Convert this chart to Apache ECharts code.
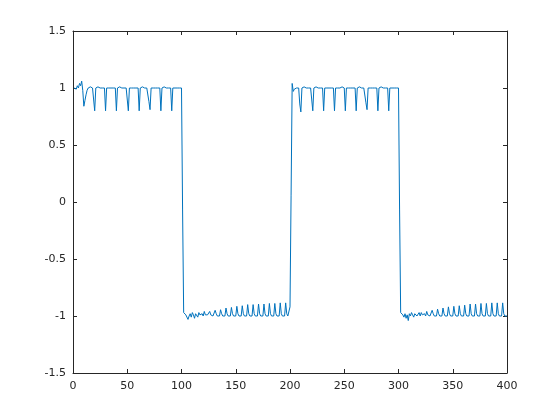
<!DOCTYPE html>
<html>
<head>
<meta charset="utf-8">
<script src="https://cdn.jsdelivr.net/npm/echarts@6/dist/echarts.min.js"></script>
<style>
  html, body { margin: 0; padding: 0; background: #fff; }
  #chart { width: 560px; height: 420px; }
</style>
</head>
<body>
<div id="chart"></div>
<script>
// samples 1..100 (high half)
const high1 = [
  1.00, 1.01, 0.99, 1.02, 1.00, 1.04, 1.02, 1.06, 0.98, 0.84,
  0.89, 0.94, 0.98, 1.00, 1.00, 1.01, 1.00, 1.00, 1.00, 0.80,
  1.00, 1.00, 1.01, 1.00, 1.00, 1.00, 1.00, 1.01, 1.00, 0.80,
  1.00, 1.00, 1.00, 1.01, 1.00, 1.00, 1.00, 1.00, 1.00, 0.80,
  1.00, 1.00, 1.01, 1.00, 1.00, 1.00, 1.00, 1.01, 1.00, 1.00,
  0.80, 1.00, 1.00, 1.00, 1.01, 1.00, 1.00, 1.00, 1.00, 1.00,
  0.80, 1.00, 1.00, 1.01, 1.00, 1.00, 1.00, 1.00, 1.00, 0.88,
  0.81, 1.00, 1.00, 1.00, 1.01, 1.00, 1.00, 1.00, 1.00, 1.00,
  0.80, 1.00, 1.00, 1.01, 1.00, 1.00, 1.00, 1.00, 1.00, 1.00,
  0.80, 1.00, 1.00, 1.00, 1.01, 1.00, 1.00, 1.00, 1.00, 1.00
]
// samples 101..200 (low half)
const low1 = [
  -0.07, -0.97, -0.98, -0.99, -0.98, -1.03, -1.00, -0.98, -1.01, -0.97,
  -0.99, -1.02, -0.98, -0.99, -1.01, -0.97, -0.99, -1.00, -0.98, -1.00,
  -0.96, -0.99, -1.00, -0.99, -1.00, -0.96, -0.99, -1.00, -1.00, -1.00,
  -0.95, -0.98, -1.00, -1.01, -1.00, -0.945, -0.98, -1.00, -1.01, -1.00,
  -0.93, -0.98, -1.00, -1.01, -1.00, -0.925, -0.98, -1.00, -1.01, -1.00,
  -0.915, -0.98, -1.00, -1.01, -1.00, -0.91, -0.98, -1.00, -1.01, -1.00,
  -0.90, -0.98, -1.00, -1.01, -1.00, -0.90, -0.98, -1.00, -1.01, -1.00,
  -0.895, -0.98, -1.00, -1.01, -1.00, -0.895, -0.98, -1.00, -1.01, -1.00,
  -0.89, -0.98, -1.00, -1.01, -1.00, -0.89, -0.98, -1.00, -1.01, -1.00,
  -0.885, -0.98, -1.00, -1.01, -1.00, -0.885, -0.98, -1.00, -1.01, -0.92
]
// samples 201..300
const high2 = [
  0.06, 1.04, 0.97, 0.99, 0.98, 1.00, 0.99, 1.00, 0.86, 0.79,
  1.00, 1.00, 1.01, 1.00, 1.00, 1.00, 1.00, 1.01, 1.00, 1.00,
  0.80, 1.00, 1.00, 1.01, 1.00, 1.00, 1.00, 1.00, 1.00, 1.00,
  0.80, 1.00, 1.00, 1.00, 1.01, 1.00, 1.00, 1.00, 1.00, 1.00,
  0.80, 1.00, 1.01, 1.00, 1.00, 1.00, 1.00, 1.01, 1.00, 1.00,
  0.80, 1.00, 1.00, 1.00, 1.01, 1.00, 1.00, 1.00, 1.00, 1.00,
  0.80, 1.00, 1.00, 1.01, 1.00, 1.00, 1.00, 1.00, 1.00, 0.87,
  0.81, 1.00, 1.00, 1.00, 1.01, 1.00, 1.00, 1.00, 1.00, 1.00,
  0.80, 1.00, 1.00, 1.01, 1.00, 1.00, 1.00, 1.00, 1.00, 1.00,
  0.80, 1.00, 1.00, 1.00, 1.01, 1.00, 1.00, 1.00, 1.00, 1.00
]
// samples 301..400
const low2 = [
  -0.07, -0.97, -0.98, -0.99, -1.01, -0.98, -1.02, -0.99, -1.04, -0.98,
  -1.00, -0.97, -0.99, -1.01, -0.98, -0.98, -1.00, -0.99, -0.97, -1.00,
  -0.97, -0.99, -1.00, -0.98, -1.00, -0.96, -0.99, -1.00, -1.00, -1.00,
  -0.95, -0.98, -1.00, -1.01, -1.00, -0.94, -0.98, -1.00, -1.01, -1.00,
  -0.93, -0.98, -1.00, -1.01, -1.00, -0.92, -0.98, -1.00, -1.01, -1.00,
  -0.915, -0.98, -1.00, -1.01, -1.00, -0.91, -0.98, -1.00, -1.01, -1.00,
  -0.905, -0.98, -1.00, -1.01, -1.00, -0.895, -0.98, -1.00, -1.01, -1.00,
  -0.895, -0.98, -1.00, -1.01, -1.00, -0.89, -0.98, -1.00, -1.01, -1.00,
  -0.89, -0.98, -1.00, -1.01, -1.00, -0.885, -0.98, -1.00, -1.01, -1.00,
  -0.885, -0.98, -1.00, -1.01, -1.00, -0.885, -0.98, -1.00, -1.01, -1.00
]

const xTicks = [0, 50, 100, 150, 200, 250, 300, 350, 400]
const yTicks = [-1.5, -1, -0.5, 0, 0.5, 1, 1.5]

const signal = high1.concat(low1, high2, low2)
const points = signal.map((v, i) => [i + 1, v])

const axisColor = '#262626'
const font = 'DejaVu Sans'

const myChart = echarts.init(document.getElementById('chart'))

const boxAxis = (extra) => Object.assign({
  type: 'value',
  axisLine: { show: true, onZero: false, lineStyle: { color: axisColor, width: 1 } },
  axisTick: { show: true, inside: true, length: 4, lineStyle: { color: axisColor } },
  splitLine: { show: false },
}, extra)

let option = {
  backgroundColor: '#fff',
  animation: false,
  grid: { left: 73, right: 53, top: 31, bottom: 47, containLabel: false },
  xAxis: [
    boxAxis({
      position: 'bottom',
      min: xTicks[0], max: xTicks[xTicks.length - 1], interval: xTicks[1] - xTicks[0],
      axisLabel: { color: axisColor, fontFamily: font, fontSize: 11, margin: 8 },
    }),
    boxAxis({
      position: 'top',
      min: xTicks[0], max: xTicks[xTicks.length - 1], interval: xTicks[1] - xTicks[0],
      axisLabel: { show: false },
    }),
  ],
  yAxis: [
    boxAxis({
      position: 'left',
      min: yTicks[0], max: yTicks[yTicks.length - 1], interval: 0.5,
      axisLabel: { color: axisColor, fontFamily: font, fontSize: 11, margin: 7 },
    }),
    boxAxis({
      position: 'right',
      min: yTicks[0], max: yTicks[yTicks.length - 1], interval: 0.5,
      axisLabel: { show: false },
    }),
  ],
  series: [
    {
      type: 'line',
      data: points,
      showSymbol: false,
      sampling: 'none',
      lineStyle: { color: '#0072BD', width: 1 },
    },
  ],
}

myChart.setOption(option)
</script>
</body>
</html>
